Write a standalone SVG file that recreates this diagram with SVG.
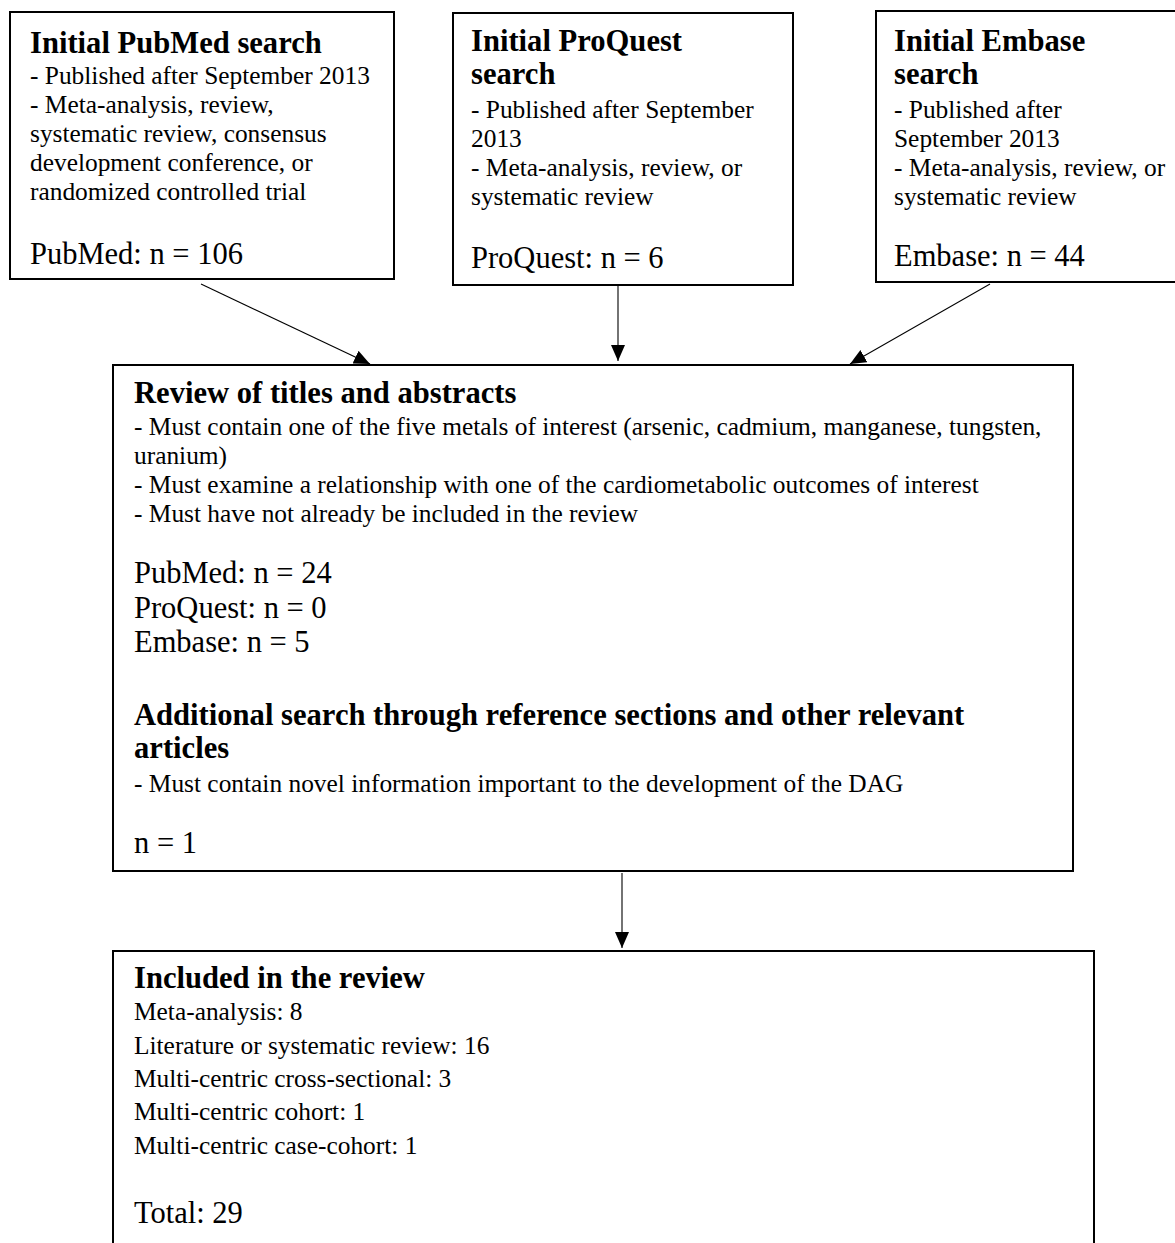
<svg xmlns="http://www.w3.org/2000/svg" width="1175" height="1243" viewBox="0 0 1175 1243">
<style>
.box{fill:#fff;stroke:#000;stroke-width:2}
text{font-family:"Liberation Serif","Times New Roman",serif;fill:#000}
.h{font-weight:bold;font-size:30.6px}
.b{font-size:25.4px}
.n{font-size:30.5px}
.c{stroke:#000;stroke-width:1.1;fill:none}
</style>
<defs>
<marker id="ah" viewBox="0 0 16 14" refX="16" refY="7" markerWidth="16" markerHeight="14" markerUnits="userSpaceOnUse" orient="auto">
<path d="M0,0 L16,7 L0,14 z" fill="#000"/>
</marker>
</defs>
<rect width="1175" height="1243" fill="#fff"/>
<g id="connectors">
<line class="c" x1="201" y1="284" x2="370" y2="364" marker-end="url(#ah)"/>
<line class="c" x1="618" y1="286" x2="618" y2="361" marker-end="url(#ah)"/>
<line class="c" x1="990" y1="284" x2="850" y2="364" marker-end="url(#ah)"/>
<line class="c" x1="622" y1="873" x2="622" y2="948" marker-end="url(#ah)"/>
</g>
<g id="pubmed">
<rect class="box" x="10" y="12" width="384" height="267"/>
<text class="h" x="30" y="53">Initial PubMed search</text>
<text class="b" x="30" y="84">- Published after September 2013</text>
<text class="b" x="30" y="113">- Meta-analysis, review,</text>
<text class="b" x="30" y="142">systematic review, consensus</text>
<text class="b" x="30" y="171">development conference, or</text>
<text class="b" x="30" y="200">randomized controlled trial</text>
<text class="n" x="30" y="264">PubMed: n = 106</text>
</g>
<g id="proquest">
<rect class="box" x="453" y="13" width="340" height="272"/>
<text class="h" x="471" y="51">Initial ProQuest</text>
<text class="h" x="471" y="84">search</text>
<text class="b" x="471" y="118">- Published after September</text>
<text class="b" x="471" y="147">2013</text>
<text class="b" x="471" y="176">- Meta-analysis, review, or</text>
<text class="b" x="471" y="205">systematic review</text>
<text class="n" x="471" y="268">ProQuest: n = 6</text>
</g>
<g id="embase">
<rect class="box" x="876" y="11" width="310" height="271"/>
<text class="h" x="894" y="51">Initial Embase</text>
<text class="h" x="894" y="84">search</text>
<text class="b" x="894" y="118">- Published after</text>
<text class="b" x="894" y="147">September 2013</text>
<text class="b" x="894" y="176">- Meta-analysis, review, or</text>
<text class="b" x="894" y="205">systematic review</text>
<text class="n" x="894" y="266">Embase: n = 44</text>
</g>
<g id="review">
<rect class="box" x="113" y="365" width="960" height="506"/>
<text class="h" x="134" y="403">Review of titles and abstracts</text>
<text class="b" x="134" y="435">- Must contain one of the five metals of interest (arsenic, cadmium, manganese, tungsten,</text>
<text class="b" x="134" y="464">uranium)</text>
<text class="b" x="134" y="493">- Must examine a relationship with one of the cardiometabolic outcomes of interest</text>
<text class="b" x="134" y="522">- Must have not already be included in the review</text>
<text class="n" x="134" y="583">PubMed: n = 24</text>
<text class="n" x="134" y="618">ProQuest: n = 0</text>
<text class="n" x="134" y="652">Embase: n = 5</text>
<text class="h" x="134" y="725">Additional search through reference sections and other relevant</text>
<text class="h" x="134" y="758">articles</text>
<text class="b" x="134" y="792">- Must contain novel information important to the development of the DAG</text>
<text class="n" x="134" y="853">n = 1</text>
</g>
<g id="included">
<rect class="box" x="113" y="951" width="981" height="320"/>
<text class="h" x="134" y="988">Included in the review</text>
<text class="b" x="134" y="1020">Meta-analysis: 8</text>
<text class="b" x="134" y="1054">Literature or systematic review: 16</text>
<text class="b" x="134" y="1087">Multi-centric cross-sectional: 3</text>
<text class="b" x="134" y="1120">Multi-centric cohort: 1</text>
<text class="b" x="134" y="1154">Multi-centric case-cohort: 1</text>
<text class="n" x="134" y="1223">Total: 29</text>
</g>
</svg>
